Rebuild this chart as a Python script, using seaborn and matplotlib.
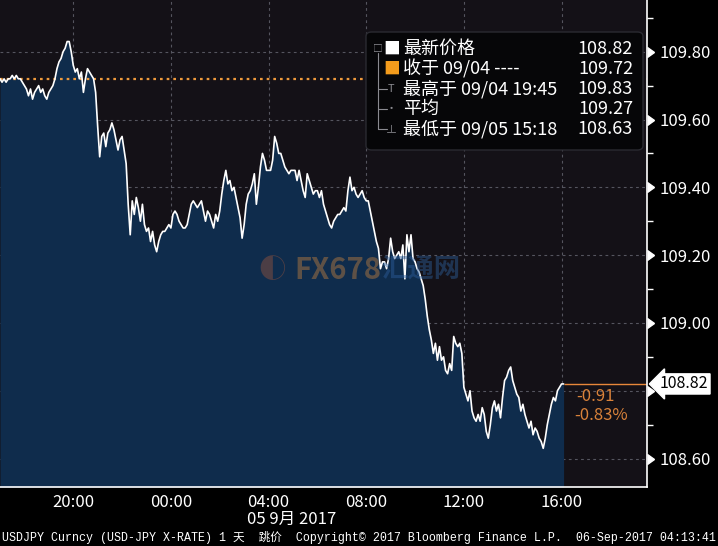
import numpy as np
import pandas as pd
import matplotlib
matplotlib.use("Agg")
import matplotlib.pyplot as plt
import matplotlib.dates as mdates
import matplotlib.markers as mmarkers
from matplotlib.ticker import MultipleLocator, FuncFormatter
from matplotlib.patches import FancyBboxPatch
from matplotlib.lines import Line2D
import matplotlib.transforms as mtransforms
import seaborn as sns

# USDJPY 5-minute prices
prices_0904 = [  # 17:00 -> 23:55 on 09/04
    109.72, 109.71, 109.72, 109.71, 109.72, 109.72, 109.73, 109.72, 109.73, 109.72, 109.72, 109.71,
    109.70, 109.69, 109.67, 109.69, 109.66, 109.68, 109.69, 109.70, 109.68, 109.69, 109.67, 109.66,
    109.68, 109.69, 109.70, 109.72, 109.75, 109.77, 109.78, 109.80, 109.81, 109.83, 109.83, 109.80,
    109.76, 109.74, 109.75, 109.72, 109.74, 109.68, 109.72, 109.75, 109.74, 109.73, 109.72, 109.68,
    109.58, 109.49, 109.55, 109.56, 109.52, 109.56, 109.57, 109.59, 109.57, 109.54, 109.51, 109.54,
    109.55, 109.51, 109.47, 109.35, 109.26, 109.36, 109.32, 109.37, 109.34, 109.30, 109.35, 109.29,
    109.27, 109.28, 109.24, 109.27, 109.23, 109.21, 109.24, 109.26, 109.27, 109.27, 109.28, 109.29,
]
prices_0905 = [  # 00:00 -> 16:05 on 09/05
    109.28, 109.32, 109.33, 109.32, 109.30, 109.29, 109.28, 109.28, 109.29, 109.32, 109.35, 109.36,
    109.35, 109.34, 109.35, 109.36, 109.33, 109.30, 109.33, 109.32, 109.30, 109.28, 109.32, 109.30,
    109.33, 109.38, 109.42, 109.45, 109.41, 109.42, 109.39, 109.40, 109.37, 109.34, 109.31, 109.25,
    109.29, 109.35, 109.38, 109.39, 109.41, 109.44, 109.35, 109.40, 109.46, 109.50, 109.48, 109.45,
    109.45, 109.45, 109.48, 109.55, 109.53, 109.50, 109.50, 109.48, 109.46, 109.45, 109.44, 109.45,
    109.45, 109.45, 109.42, 109.45, 109.42, 109.39, 109.37, 109.44, 109.42, 109.40, 109.38, 109.39,
    109.39, 109.37, 109.39, 109.35, 109.33, 109.31, 109.29, 109.28, 109.30, 109.31, 109.32, 109.32,
    109.33, 109.34, 109.33, 109.39, 109.43, 109.39, 109.40, 109.38, 109.37, 109.38, 109.39, 109.37,
    109.36, 109.36, 109.33, 109.30, 109.27, 109.24, 109.22, 109.16, 109.18, 109.18, 109.16, 109.19,
    109.25, 109.21, 109.19, 109.20, 109.21, 109.19, 109.23, 109.13, 109.26, 109.21, 109.26, 109.19,
    109.18, 109.16, 109.15, 109.13, 109.11, 109.07, 109.02, 108.98, 108.95, 108.91, 108.94, 108.89,
    108.93, 108.89, 108.90, 108.86, 108.85, 108.88, 108.86, 108.96, 108.94, 108.93, 108.94, 108.91,
    108.81, 108.79, 108.77, 108.80, 108.74, 108.72, 108.71, 108.73, 108.71, 108.75, 108.73, 108.68,
    108.66, 108.70, 108.75, 108.77, 108.74, 108.76, 108.72, 108.78, 108.83, 108.84, 108.86, 108.87,
    108.83, 108.81, 108.79, 108.78, 108.74, 108.76, 108.73, 108.71, 108.69, 108.71, 108.67, 108.69,
    108.68, 108.66, 108.65, 108.63, 108.66, 108.70, 108.73, 108.76, 108.78, 108.77, 108.80, 108.81,
    108.82, 108.82,
]
prev_close = 109.72
last_price = 108.82
change_abs = "-0.91"
change_pct = "-0.83%"

legend_labels = ["最新价格", "收于 09/04 ----", "最高于 09/04 19:45", "平均", "最低于 09/05 15:18"]
legend_values = ["108.82", "109.72", "109.83", "109.27", "108.63"]

prices = prices_0904 + prices_0905
df = pd.DataFrame({
    "time": pd.date_range("2017-09-04 17:00", periods=len(prices), freq="5min"),
    "price": prices,
})

sns.set_theme(style="dark")
plt.rcParams["font.family"] = ["Noto Sans CJK SC", "DejaVu Sans"]

BG = "#141117"
FILL = "#0f2c4c"
GRID = "#55555f"
ORANGE = "#ef9a3c"

fig = plt.figure(figsize=(7.18, 5.46), dpi=100, facecolor="black")
ax = fig.add_axes([0, 59 / 546, 647 / 718, 487 / 546])
ax.set_facecolor(BG)

ymin, ymax = 108.516, 109.9525
xmin, xmax = pd.Timestamp("2017-09-04 17:00"), pd.Timestamp("2017-09-05 19:30")

ax.fill_between(df["time"], df["price"], ymin, color=FILL, lw=0, zorder=1)
sns.lineplot(data=df, x="time", y="price", ax=ax, color="white", lw=1.2, zorder=3)

ax.axhline(prev_close, color=ORANGE, ls=(0, (1.2, 1.8)), lw=1.6, zorder=2)
ax.hlines(last_price, df["time"].iloc[-1], xmax, color="#e8873a", lw=1.0, zorder=2)

ax.set_xlim(xmin, xmax)
ax.set_ylim(ymin, ymax)
ax.set_xlabel("")
ax.set_ylabel("")

# x axis
ax.xaxis.set_major_locator(mdates.HourLocator(byhour=[0, 4, 8, 12, 16, 20]))
ax.xaxis.set_minor_locator(mdates.HourLocator(byhour=[2, 6, 10, 14, 18, 22]))
ax.xaxis.set_major_formatter(mdates.DateFormatter("%H:%M"))
ax.tick_params(axis="x", which="major", length=0, pad=5, labelsize=12, labelcolor="white")
ax.tick_params(axis="x", which="minor", length=6, width=1, color="white", direction="out")

# y axis on the right
ax.yaxis.tick_right()
ax.yaxis.set_major_locator(MultipleLocator(0.2))
ax.yaxis.set_minor_locator(MultipleLocator(0.1))
ax.yaxis.set_major_formatter(FuncFormatter(lambda v, p: "" if abs(v - 108.8) < 1e-6 else f"{v:.2f}"))
ax.tick_params(axis="y", which="major", length=6, width=1, color="white", pad=3,
               labelsize=12, labelcolor="white")
ax.tick_params(axis="y", which="minor", length=4, width=1, color="white", direction="out")
for t in ax.yaxis.get_major_ticks():
    t.tick2line.set_marker(mmarkers.CARETRIGHTBASE)
    t.tick2line.set_markersize(7)

ax.grid(True, which="major", color=GRID, ls=(0, (2.5, 3)), lw=0.8)
for side in ["top", "left"]:
    ax.spines[side].set_visible(False)
for side in ["right", "bottom"]:
    ax.spines[side].set_visible(True)
    ax.spines[side].set_color("white")
    ax.spines[side].set_linewidth(1.2)

# last price flag and change
trans = mtransforms.blended_transform_factory(ax.transAxes, ax.transData)
ax.text(1.02, last_price, "108.82", transform=trans, ha="left", va="center", fontsize=11.5,
        color="black", clip_on=False,
        bbox=dict(boxstyle="larrow,pad=0.1", fc="white", ec="white"))
ax.annotate(change_abs, xy=(df["time"].iloc[-1], last_price), xytext=(9, -9),
            textcoords="offset points", color="#d9823a", fontsize=12, va="center")
ax.annotate(change_pct, xy=(df["time"].iloc[-1], last_price), xytext=(8, -23),
            textcoords="offset points", color="#d9823a", fontsize=12, va="center")

# watermark
ax.text(0.522, 0.446, "FX678", transform=ax.transAxes, fontsize=21, fontweight="bold",
        color="#c08040", alpha=0.45, ha="center", va="center", zorder=4)
ax.text(0.65, 0.446, "汇通网", transform=ax.transAxes, fontsize=19, fontweight="bold",
        color="#2d5f9c", alpha=0.45, ha="center", va="center", zorder=4)
ax.text(0.42, 0.446, "◐", transform=ax.transAxes, fontsize=20,
        color="#c0603a", alpha=0.35, ha="center", va="center", zorder=4)

# legend panel
def fx(px):
    return px / 718

def fy(py):
    return 1 - py / 546

box = FancyBboxPatch((fx(366), fy(150)), fx(643) - fx(366), fy(32) - fy(150),
                     boxstyle="round,pad=0,rounding_size=0.008", transform=fig.transFigure,
                     fc="#060608", ec="#2a2a31", lw=1, zorder=5)
fig.patches.append(box)
rows_y = [49, 69, 89, 109, 129]
for lab, val, ry in zip(legend_labels, legend_values, rows_y):
    fig.text(fx(403), fy(ry), lab, color="white", fontsize=13, va="center", ha="left", zorder=6)
    fig.text(fx(633), fy(ry), val, color="white", fontsize=13, va="center", ha="right", zorder=6)
fig.text(fx(392), fy(rows_y[0]), "■", color="white", fontsize=12, va="center", ha="center", zorder=6)
fig.text(fx(392), fy(rows_y[1]), "■", color="#f39b1c", fontsize=12, va="center", ha="center", zorder=6)
tree = "#8a8a90"
fig.lines.append(Line2D([fx(378)] * 2, [fy(rows_y[0] + 4), fy(rows_y[4])], color=tree, lw=0.8,
                        transform=fig.transFigure, zorder=7))
fig.text(fx(378), fy(rows_y[0]), "□", color=tree, fontsize=7, va="center", ha="center", zorder=7)
for ry, sym in zip(rows_y[2:], ["T", "•", "⊥"]):
    fig.lines.append(Line2D([fx(378), fx(387)], [fy(ry)] * 2, color=tree, lw=0.8,
                            transform=fig.transFigure, zorder=7))
    fig.text(fx(391), fy(ry), sym, color=tree, fontsize=8, va="center", ha="center", zorder=7)

# bottom captions
fig.text(fx(292), fy(519), "05 9月 2017", color="white", fontsize=12, ha="center", va="center")
fig.text(0.003, fy(537),
         "USDJPY Curncy (USD-JPY X-RATE) 1 天  跳价  Copyright© 2017 Bloomberg Finance L.P.  06-Sep-2017 04:13:41",
         color="white", fontsize=8.4, ha="left", va="center",
         family=["Liberation Mono", "Noto Sans CJK SC"])

fig.savefig("out.png", dpi=100, facecolor="black")
